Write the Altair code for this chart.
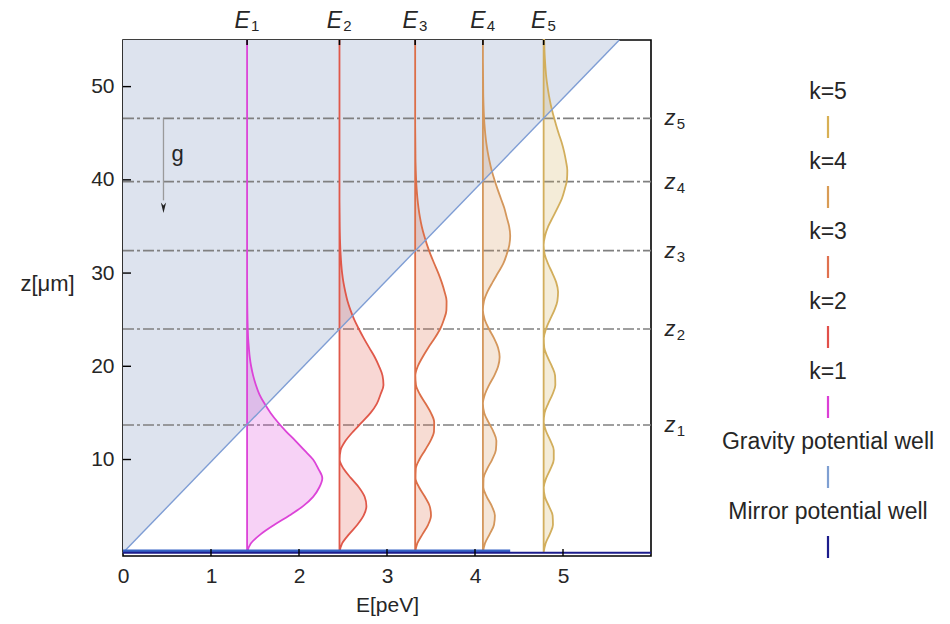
import altair as alt
import pandas as pd

# ---------------- data ----------------
z_grid = list(range(0, 56))                     # z in micrometres
E_levels = [1.41, 2.46, 3.32, 4.09, 4.78]       # E_k in peV
z_turn = [13.7, 24.0, 32.4, 39.8, 46.6]         # classical turning heights z_k
level_names = ["1", "2", "3", "4", "5"]

# |psi_k(z)|^2 drawn as horizontal displacement (peV) from E_k, at z = 0..55
psi1 = [0, 0.042, 0.156, 0.31, 0.48, 0.636, 0.75, 0.82, 0.855, 0.81, 0.75, 0.65, 0.55,
        0.445, 0.35, 0.267, 0.198, 0.14, 0.10, 0.069, 0.046, 0.030, 0.020, 0.012, 0.008,
        0.005, 0.003, 0.002, 0.001] + [0] * 27
psi2 = [0, 0.03, 0.11, 0.203, 0.275, 0.306, 0.286, 0.222, 0.131, 0.047, 0.002, 0.013,
        0.068, 0.155, 0.256, 0.353, 0.425, 0.467, 0.50, 0.489, 0.45, 0.40, 0.338, 0.277,
        0.22, 0.168, 0.126, 0.091, 0.066, 0.045, 0.030, 0.020, 0.013, 0.008, 0.005, 0.003,
        0.002, 0.001] + [0] * 18
psi3 = [0, 0.024, 0.084, 0.147, 0.18, 0.165, 0.111, 0.046, 0.004,
        0.007, 0.048, 0.112, 0.174, 0.214, 0.216, 0.179, 0.118, 0.053, 0.009,
        0.002, 0.030, 0.085, 0.149, 0.221, 0.284, 0.326, 0.355, 0.357, 0.334,
        0.302, 0.263, 0.218, 0.174, 0.136, 0.103, 0.075, 0.054, 0.038, 0.026,
        0.017, 0.011, 0.007, 0.004, 0.003, 0.002, 0.001] + [0] * 10
psi4 = [0, 0.023, 0.077, 0.126, 0.136, 0.101, 0.044, 0.005,
        0.007, 0.048, 0.105, 0.147, 0.153, 0.119, 0.063, 0.015,
        0.000, 0.023, 0.071, 0.129, 0.173, 0.19, 0.172, 0.127, 0.069, 0.021, 0.000,
        0.012, 0.052, 0.109, 0.17, 0.231, 0.27, 0.30, 0.31, 0.298, 0.27,
        0.242, 0.204, 0.166, 0.131, 0.10, 0.075, 0.054, 0.038, 0.026, 0.017,
        0.011, 0.007, 0.004, 0.003, 0.002, 0.001, 0, 0, 0]
psi5 = [0, 0.022, 0.070, 0.106, 0.102, 0.060, 0.014,
        0.001, 0.029, 0.078, 0.115, 0.115, 0.078, 0.029, 0.001,
        0.011, 0.052, 0.101, 0.133, 0.130, 0.094, 0.044, 0.007,
        0.002, 0.027, 0.072, 0.121, 0.156, 0.164, 0.143, 0.099, 0.050, 0.012,
        0.000,
        0.016, 0.052, 0.105, 0.158, 0.208, 0.24, 0.265, 0.269, 0.254, 0.233,
        0.205, 0.17, 0.138, 0.108, 0.082, 0.061, 0.044, 0.030, 0.021, 0.014, 0.009, 0.006]
wave_colors = ["#dc44d8", "#e0584a", "#dc6e48", "#d4975c", "#d2ae5c"]

grav_z = [0, 55]            # gravity potential  E = m g z
grav_E = [0, 5.64]
mirror_E = [0, 6]
mirror_band_E = [0, 4.4]
x_ticks = [0, 1, 2, 3, 4, 5]
y_ticks = [10, 20, 30, 40, 50]
arrow_E = 0.46
arrow_z = [46.6, 37.8]
arrow_head_z = 37.0
g_pos = (0.62, 42.8)

legend_labels = ["k=5", "k=4", "k=3", "k=2", "k=1",
                 "Gravity potential well", "Mirror potential well"]
legend_colors = ["#d8b054", "#d99c55", "#e0714f", "#e2504a", "#dc3fd6",
                 "#7f9fd2", "#1c1c8c"]

# ---------------- layout ----------------
W, H = 528, 516
Z0, Z1 = -0.35, 55.0
FONT = "Liberation Sans"
TXT = "#262626"
xs = alt.Scale(domain=[0, 6], nice=False, zero=False)
ys = alt.Scale(domain=[Z0, Z1], nice=False, zero=False)

xax = alt.Axis(values=x_ticks, title="E[peV]", tickSize=0, domain=False, grid=False,
               labelFontSize=21, labelPadding=9, titleFontSize=21, titlePadding=8,
               labelColor=TXT, titleColor=TXT, titleFontWeight="normal", labelFlush=False,
               labelFont=FONT, titleFont=FONT, format="d")
yax = alt.Axis(values=y_ticks, title="z[μm]", tickSize=0, domain=False, grid=False,
               labelFontSize=21, labelPadding=9, titleFontSize=22, titleAngle=0,
               titleX=-76, titleY=243, titleAlign="center", titleBaseline="middle",
               labelColor=TXT, titleColor=TXT, titleFontWeight="normal", labelFlush=False,
               labelFont=FONT, titleFont=FONT, format="d")


def X(f):
    return alt.X(f, scale=xs, axis=xax)


def Y(f):
    return alt.Y(f, scale=ys, axis=yax)


rows = []
for i, (E, psi) in enumerate(zip(E_levels, [psi1, psi2, psi3, psi4, psi5])):
    for z, a in zip(z_grid, psi):
        rows.append({"k": i + 1, "z": z, "E": E, "x": E + a, "col": wave_colors[i]})
waves_df = pd.DataFrame(rows)

grav_df = pd.DataFrame({"z": grav_z, "E": grav_E})
turn_df = pd.DataFrame({"z": z_turn, "lab": level_names})
lev_df = pd.DataFrame({"E": E_levels, "lab": level_names})

grav_fill = alt.Chart(grav_df).mark_area(orient="horizontal", color="#dde3ee").encode(
    x=X("E:Q"), x2=alt.value(0), y=Y("z:Q"))

turn_lines = alt.Chart(turn_df).mark_rule(color="#808080", strokeWidth=1.7,
                                          strokeDash=[11, 3, 3, 3]).encode(
    y=Y("z:Q"), x=alt.value(0), x2=alt.value(W))

waves = alt.Chart(waves_df).mark_area(orient="horizontal", interpolate="monotone",
                                      fillOpacity=0.24, strokeWidth=1.8, strokeOpacity=1).encode(
    x=X("x:Q"), x2="E:Q", y=Y("z:Q"),
    color=alt.Color("col:N", scale=None),
    stroke=alt.Stroke("col:N", scale=None),
    detail="k:N",
)

grav_line = alt.Chart(grav_df).mark_line(color="#7e9dd4", strokeWidth=1.4).encode(
    x=X("E:Q"), y=Y("z:Q"))

band_df = pd.DataFrame({"a": [mirror_band_E[0]], "b": [mirror_band_E[1]], "z": [0.22]})
mirror_df = pd.DataFrame({"a": [mirror_E[0]], "b": [mirror_E[1]], "z": [0.0]})
mirror_band = alt.Chart(band_df).mark_rule(color="#3563c6", strokeWidth=2.6).encode(
    x=X("a:Q"), x2="b:Q", y=Y("z:Q"))
mirror = alt.Chart(mirror_df).mark_rule(color="#1c1c8c", strokeWidth=2).encode(
    x=X("a:Q"), x2="b:Q", y=Y("z:Q"))

# inward ticks
lt = alt.Chart(pd.DataFrame({"t": y_ticks})).mark_rule(color="black", strokeWidth=1.4).encode(
    y=Y("t:Q"), x=alt.value(0), x2=alt.value(8))
bt = alt.Chart(pd.DataFrame({"t": x_ticks[1:]})).mark_rule(color="black", strokeWidth=1.4).encode(
    x=X("t:Q"), y=alt.value(H), y2=alt.value(H - 7))
tt = alt.Chart(lev_df).mark_rule(color="black", strokeWidth=1.6).encode(
    x=X("E:Q"), y=alt.value(0), y2=alt.value(5))

# gravity arrow
arr_df = pd.DataFrame({"E": [arrow_E], "z0": [arrow_z[0]], "z1": [arrow_z[1]],
                       "zh": [arrow_head_z], "gE": [g_pos[0]], "gz": [g_pos[1]]})
arrow = alt.Chart(arr_df).mark_rule(color="#9a9a9a", strokeWidth=1.3).encode(
    x=X("E:Q"), y=Y("z0:Q"), y2="z1:Q")
head = alt.Chart(arr_df).mark_point(shape="M0,1L-0.5,-1L0,-0.45L0.5,-1Z", filled=True,
                                     size=110, color="#222222", opacity=1).encode(
    x=X("E:Q"), y=Y("zh:Q"))
g_txt = alt.Chart(arr_df).mark_text(text="g", fontSize=22, font=FONT, color=TXT,
                                    align="center", baseline="middle").encode(
    x=X("gE:Q"), y=Y("gz:Q"))

# E_k labels on top
e_main = alt.Chart(lev_df).mark_text(text="E", fontSize=23, font=FONT, fontStyle="italic",
                                     color=TXT, align="center", baseline="middle", dx=-5).encode(
    x=X("E:Q"), y=alt.value(-19))
e_sub = alt.Chart(lev_df).mark_text(fontSize=15, font=FONT, color=TXT, align="center",
                                    baseline="middle", dx=8, dy=5).encode(
    x=X("E:Q"), y=alt.value(-19), text="lab:N")

# z_k labels on the right
z_main = alt.Chart(turn_df).mark_text(text="z", fontSize=22, font=FONT, fontStyle="italic",
                                      color=TXT, align="center", baseline="middle").encode(
    y=Y("z:Q"), x=alt.value(W + 19))
z_sub = alt.Chart(turn_df).mark_text(fontSize=15, font=FONT, color=TXT, align="center",
                                     baseline="middle", dy=6).encode(
    y=Y("z:Q"), x=alt.value(W + 30), text="lab:N")

# custom legend on the right (pixel layout converted to the z scale)
leg_df = pd.DataFrame({"label": legend_labels, "col": legend_colors,
                       "i": list(range(len(legend_labels)))})
pz = f"({Z1} - {Z0}) / {H}"
leg_base = alt.Chart(leg_df).transform_calculate(
    ty=f"{Z1} - (52 + 70 * datum.i) * {pz}",
    d0=f"{Z1} - (52 + 70 * datum.i + 24) * {pz}",
    d1=f"{Z1} - (52 + 70 * datum.i + 46) * {pz}")
leg_text = leg_base.mark_text(fontSize=23, font=FONT, color=TXT, align="center",
                              baseline="middle").encode(
    x=alt.value(705), y=Y("ty:Q"), text="label:N")
leg_dash = leg_base.mark_rule(strokeWidth=2.2).encode(
    x=alt.value(705), y=Y("d0:Q"), y2="d1:Q",
    color=alt.Color("col:N", scale=None))

chart = alt.layer(
    grav_fill, turn_lines, waves, grav_line, mirror_band, mirror, lt, bt, tt,
    arrow, head, g_txt, e_main, e_sub, z_main, z_sub, leg_text, leg_dash,
).properties(
    width=W, height=H,
    autosize=alt.AutoSizeParams(type="none"),
    padding={"left": 123, "top": 40, "right": 299, "bottom": 68},
    background="white",
).configure_view(stroke="black", strokeWidth=1.6)

chart.save("out.html", embed_options={"renderer": "svg", "actions": False})
